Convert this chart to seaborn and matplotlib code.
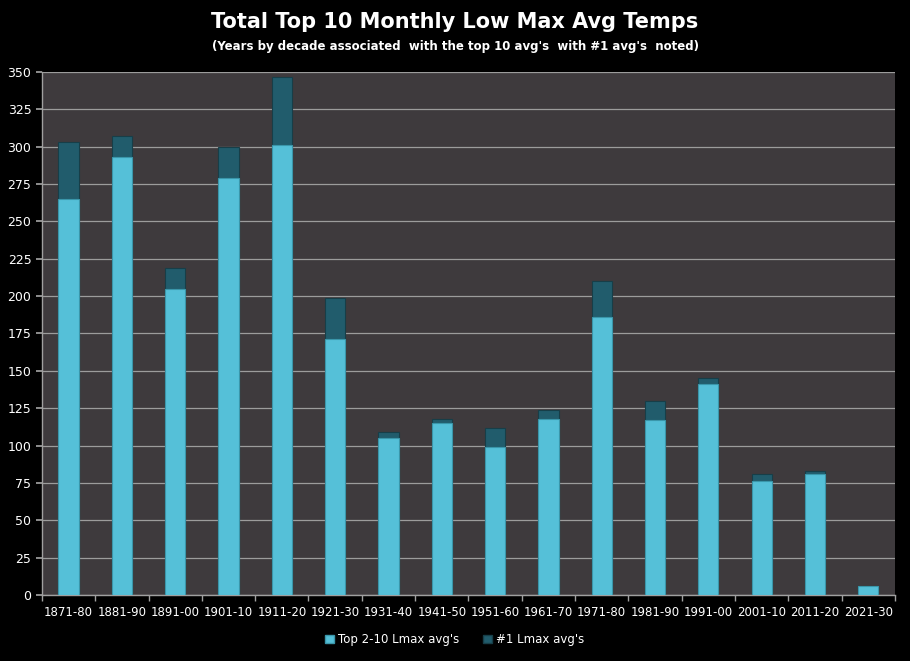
import matplotlib
matplotlib.use("Agg")
import matplotlib.pyplot as plt
import seaborn as sns
import pandas as pd
import numpy as np
from matplotlib.patches import Patch

decades = ["1871-80", "1881-90", "1891-00", "1901-10", "1911-20", "1921-30",
           "1931-40", "1941-50", "1951-60", "1961-70", "1971-80", "1981-90",
           "1991-00", "2001-10", "2011-20", "2021-30"]
top_2_10 = [265, 293, 205, 279, 301, 171, 105, 115, 99, 118, 186, 117, 141, 76, 81, 6]
top_1 = [38, 14, 14, 21, 46, 28, 4, 3, 13, 6, 24, 13, 4, 5, 2, 0]

totals = [a + b for a, b in zip(top_2_10, top_1)]
df = pd.DataFrame({"decade": decades, "low": top_2_10, "total": totals})

sns.set_theme(style="dark")
plt.rcParams['font.family'] = ['DejaVu Sans']

light = "#55c0d8"
dark = "#215c6c"
bg = "#3e3a3d"

fig = plt.figure(figsize=(9.1, 6.61), dpi=100, facecolor="black")
ax = fig.add_axes([0.046, 0.1, 0.9375, 0.791])
ax.set_facecolor(bg)

sns.barplot(data=df, x="decade", y="total", color=dark, width=0.38,
            saturation=1, edgecolor="#173e48", linewidth=0.8, ax=ax, zorder=3)
sns.barplot(data=df, x="decade", y="low", color=light, width=0.38,
            saturation=1, edgecolor="#3a96aa", linewidth=0.8, ax=ax, zorder=4)

ax.set_ylim(0, 350)
ax.set_xlim(-0.5, len(decades) - 0.5)
ax.set_yticks(np.arange(0, 351, 25))
ax.yaxis.grid(True, color="#9c9c9c", linewidth=0.9)
ax.xaxis.grid(False)
ax.set_axisbelow(True)
ax.set_xlabel("")
ax.set_ylabel("")

ax.tick_params(axis="y", colors="white", labelsize=9, length=4, color="#a0a0a0", left=True)
ax.tick_params(axis="x", which="major", colors="white", labelsize=8.5, length=0, pad=8)
ax.set_xticks(np.arange(-0.5, len(decades), 1), minor=True)
ax.tick_params(axis="x", which="minor", length=4, color="#a0a0a0", bottom=True)
for s in ["top", "right"]:
    ax.spines[s].set_visible(False)
for s in ["left", "bottom"]:
    ax.spines[s].set_color("#a0a0a0")
    ax.spines[s].set_linewidth(1)

fig.text(0.5, 0.966, "Total Top 10 Monthly Low Max Avg Temps", color="white",
         fontsize=15, fontweight="bold", ha="center", va="center")
fig.text(0.5, 0.929, "(Years by decade associated  with the top 10 avg's  with #1 avg's  noted)",
         color="white", fontsize=8.5, fontweight="bold", ha="center", va="center")

handles = [Patch(facecolor=light, edgecolor="#3a96aa", label="Top 2-10 Lmax avg's"),
           Patch(facecolor=dark, edgecolor="#173e48", label="#1 Lmax avg's")]
leg = fig.legend(handles=handles, loc="center", bbox_to_anchor=(0.5, 0.032), ncol=2,
                 frameon=False, fontsize=8.5, handlelength=0.7, handleheight=0.7,
                 columnspacing=2.0, handletextpad=0.4)
for t in leg.get_texts():
    t.set_color("white")

fig.savefig("out.png", dpi=100, facecolor="black")
